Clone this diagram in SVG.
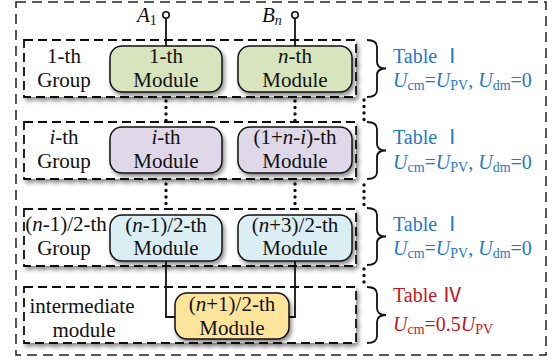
<svg xmlns="http://www.w3.org/2000/svg" width="554" height="362" viewBox="0 0 554 362">
  <defs>
    <filter id="shadow" x="-10%" y="-20%" width="130%" height="150%">
      <feDropShadow dx="2" dy="3" stdDeviation="2" flood-color="#000" flood-opacity="0.45"/>
    </filter>
    <style>
      text { font-family: "Liberation Serif", "Noto Sans CJK SC", serif; font-size: 21px; fill: #111; }
      .c { text-anchor: middle; }
      .it { font-style: italic; }
      .sub { font-size: 14px; }
      .note { font-size: 20px; }
      .blue, .blue tspan { fill: #1f78c8; }
      .red, .red tspan { fill: #c8141e; }
      .outer { fill: none; stroke: #222; stroke-width: 1.5; stroke-dasharray: 10 6; }
      .grp { fill: #fff; stroke: #111; stroke-width: 1.8; stroke-dasharray: 9 5; filter: url(#shadow); }
      .mod { stroke: #111; stroke-width: 1.5; filter: url(#shadow); }
      .green { fill: #d8e4bd; }
      .purple { fill: #ded8e8; }
      .cyan { fill: #dbeef4; }
      .yellow { fill: #ffe49b; }
      .wire { fill: none; stroke: #111; stroke-width: 1.8; }
      .dots { fill: none; stroke: #111; stroke-width: 3.4; stroke-linecap: round; stroke-dasharray: 0 6.5; }
      .brace { fill: none; stroke: #111; stroke-width: 1.8; }
      .term { fill: #fff; stroke: #111; stroke-width: 1.6; }
    </style>
  </defs>

  <!-- outer frame -->
  <rect class="outer" x="16" y="2" width="530" height="353"/>

  <!-- group frames -->
  <g id="group-1">
    <rect class="grp" x="24" y="40" width="332" height="57"/>
    <text class="c" x="64" y="63">1-th</text>
    <text class="c" x="64" y="87">Group</text>
  </g>
  <g id="group-i">
    <rect class="grp" x="24" y="122" width="332" height="57"/>
    <text class="c" x="64" y="144"><tspan class="it">i</tspan>-th</text>
    <text class="c" x="64" y="168">Group</text>
  </g>
  <g id="group-half">
    <rect class="grp" x="24" y="209" width="332" height="57"/>
    <text class="c" x="66" y="231">(<tspan class="it">n</tspan>-1)/2-th</text>
    <text class="c" x="64" y="255">Group</text>
  </g>
  <g id="group-intermediate">
    <rect class="grp" x="24" y="287" width="332" height="56"/>
    <text class="c" x="82" y="313">intermediate</text>
    <text class="c" x="84" y="337">module</text>
  </g>

  <!-- connectors -->
  <g id="connectors">
    <line class="wire" x1="166" y1="18" x2="166" y2="46"/>
    <line class="wire" x1="295" y1="18" x2="295" y2="46"/>
    <polyline class="wire" points="166,261 166,317 175,317"/>
    <polyline class="wire" points="295,261 295,317 289,317"/>
    <path class="dots" d="M166 101 V122 M295 101 V122 M166 184 V210 M295 184 V210"/>
    <path class="dots" d="M364 100 V120 M364 185 V205 M364 269 V288"/>
  </g>

  <!-- terminals -->
  <g id="terminal-A1">
    <circle class="term" cx="166" cy="15" r="3.2"/>
    <text x="137" y="22"><tspan class="it">A</tspan><tspan class="sub" dy="3">1</tspan></text>
  </g>
  <g id="terminal-Bn">
    <circle class="term" cx="295" cy="15" r="3.2"/>
    <text x="262" y="22"><tspan class="it">B</tspan><tspan class="sub it" dy="3">n</tspan></text>
  </g>

  <!-- modules -->
  <g id="module-1">
    <rect class="mod green" x="110" y="46" width="112" height="46" rx="12"/>
    <text class="c" x="166" y="63">1-th</text>
    <text class="c" x="166" y="87">Module</text>
  </g>
  <g id="module-n">
    <rect class="mod green" x="238" y="46" width="114" height="46" rx="12"/>
    <text class="c" x="295" y="63"><tspan class="it">n</tspan>-th</text>
    <text class="c" x="295" y="87">Module</text>
  </g>
  <g id="module-i">
    <rect class="mod purple" x="110" y="127" width="112" height="46" rx="12"/>
    <text class="c" x="166" y="144"><tspan class="it">i</tspan>-th</text>
    <text class="c" x="166" y="168">Module</text>
  </g>
  <g id="module-1-n-i">
    <rect class="mod purple" x="238" y="127" width="114" height="46" rx="12"/>
    <text class="c" x="295" y="144">(1+<tspan class="it">n</tspan>-<tspan class="it">i</tspan>)-th</text>
    <text class="c" x="295" y="168">Module</text>
  </g>
  <g id="module-n-1-half">
    <rect class="mod cyan" x="110" y="215" width="112" height="46" rx="12"/>
    <text class="c" x="166" y="232">(<tspan class="it">n</tspan>-1)/2-th</text>
    <text class="c" x="166" y="255">Module</text>
  </g>
  <g id="module-n-3-half">
    <rect class="mod cyan" x="238" y="215" width="114" height="46" rx="12"/>
    <text class="c" x="295" y="232">(<tspan class="it">n</tspan>+3)/2-th</text>
    <text class="c" x="295" y="255">Module</text>
  </g>
  <g id="module-n-1-half-mid">
    <rect class="mod yellow" x="175" y="293" width="114" height="46" rx="12"/>
    <text class="c" x="232" y="311">(<tspan class="it">n</tspan>+1)/2-th</text>
    <text class="c" x="232" y="335">Module</text>
  </g>

  <!-- braces and table notes -->
  <g id="note-1">
    <path class="brace" d="M367 40 Q377 40 377 47 V62 Q377 68.5 386 68.5 Q377 68.5 377 75 V90 Q377 97 367 97"/>
    <text class="blue note" x="393" y="63">Table Ⅰ</text>
    <text class="blue note" x="393" y="87"><tspan class="it">U</tspan><tspan class="sub" dy="3">cm</tspan><tspan dy="-3">=</tspan><tspan class="it">U</tspan><tspan class="sub" dy="3">PV</tspan><tspan dy="-3">, </tspan><tspan class="it">U</tspan><tspan class="sub" dy="3">dm</tspan><tspan dy="-3">=0</tspan></text>
  </g>
  <g id="note-2">
    <path class="brace" d="M367 122 Q377 122 377 129 V144 Q377 150.5 386 150.5 Q377 150.5 377 157 V172 Q377 179 367 179"/>
    <text class="blue note" x="393" y="144">Table Ⅰ</text>
    <text class="blue note" x="393" y="169"><tspan class="it">U</tspan><tspan class="sub" dy="3">cm</tspan><tspan dy="-3">=</tspan><tspan class="it">U</tspan><tspan class="sub" dy="3">PV</tspan><tspan dy="-3">, </tspan><tspan class="it">U</tspan><tspan class="sub" dy="3">dm</tspan><tspan dy="-3">=0</tspan></text>
  </g>
  <g id="note-3">
    <path class="brace" d="M367 208 Q377 208 377 215 V230 Q377 236.5 386 236.5 Q377 236.5 377 243 V258 Q377 265 367 265"/>
    <text class="blue note" x="393" y="231">Table Ⅰ</text>
    <text class="blue note" x="393" y="255"><tspan class="it">U</tspan><tspan class="sub" dy="3">cm</tspan><tspan dy="-3">=</tspan><tspan class="it">U</tspan><tspan class="sub" dy="3">PV</tspan><tspan dy="-3">, </tspan><tspan class="it">U</tspan><tspan class="sub" dy="3">dm</tspan><tspan dy="-3">=0</tspan></text>
  </g>
  <g id="note-4">
    <path class="brace" d="M367 287 Q377 287 377 294 V308 Q377 315 386 315 Q377 315 377 322 V336 Q377 343 367 343"/>
    <text class="red note" x="393" y="302">Table Ⅳ</text>
    <text class="red note" x="393" y="331"><tspan class="it">U</tspan><tspan class="sub" dy="3">cm</tspan><tspan dy="-3">=0.5</tspan><tspan class="it">U</tspan><tspan class="sub" dy="3">PV</tspan></text>
  </g>
</svg>
